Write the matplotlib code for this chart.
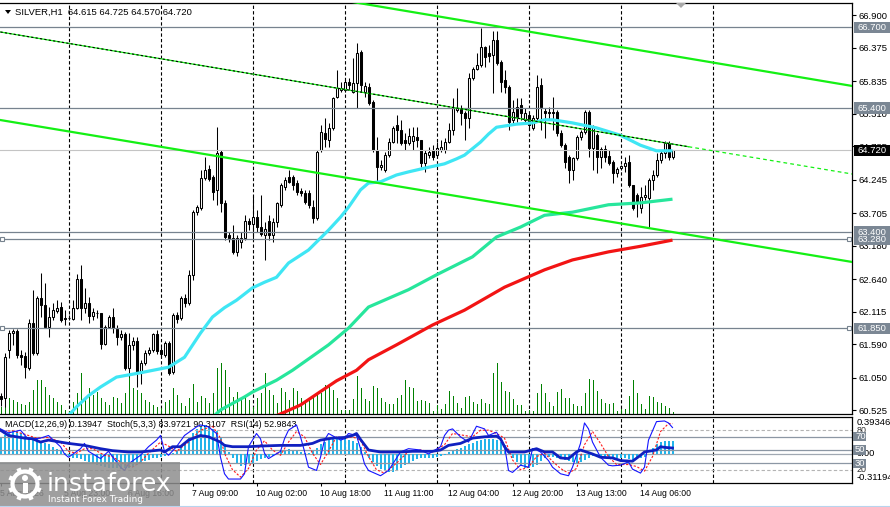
import matplotlib
matplotlib.use("Agg")
import matplotlib.pyplot as plt
import matplotlib.transforms as mtransforms
from matplotlib.patches import Rectangle, Circle, Polygon
import numpy as np

plt.rcParams['font.family'] = ['Liberation Sans', 'DejaVu Sans']

# ---------------- data ----------------
symbol_title = "SILVER,H1  64.615 64.725 64.570 64.720"
indicator_title = "MACD(12,26,9) 0.13947  Stoch(5,3,3) 83.9721 90.3107  RSI(14) 52.9843"

time_labels = ["5 Aug 2026", "5 Aug 23:00", "6 Aug 16:00", "7 Aug 09:00", "10 Aug 02:00",
               "10 Aug 18:00", "11 Aug 11:00", "12 Aug 04:00", "12 Aug 20:00",
               "13 Aug 13:00", "14 Aug 06:00"]
time_label_bars = [0, 16, 32, 48, 64, 80, 96, 112, 128, 144, 160]
day_separator_bars = [17, 40, 63, 86, 109, 132, 155, 178]

price_ticks = [60.525, 61.050, 61.590, 62.115, 62.640, 63.180, 63.705, 64.245,
               64.785, 65.310, 65.835, 66.375, 66.900]

opens = [60.75, 60.72, 61.50, 61.77, 61.80, 61.42, 61.40, 61.21, 61.93, 61.45,
         62.34, 62.22, 61.87, 62.03, 62.13, 62.19, 62.01, 62.01, 62.00, 62.17,
         62.64, 62.17, 62.26, 62.05, 62.09, 62.09, 61.59, 61.87, 62.03, 61.84,
         61.71, 61.76, 61.21, 61.58, 61.64, 61.13, 61.29, 61.45, 61.50, 61.76,
         61.50, 61.42, 61.61, 61.14, 62.06, 62.01, 62.34, 62.26, 62.71, 63.72,
         63.79, 64.27, 64.42, 64.29, 64.08, 64.69, 63.87, 63.35, 63.30, 63.08,
         63.24, 63.30, 63.58, 63.53, 63.64, 63.48, 63.35, 63.58, 63.35, 63.56,
         63.84, 64.13, 64.29, 64.29, 64.19, 64.06, 64.03, 64.03, 63.80, 63.63,
         64.72, 65.00, 64.88, 65.08, 65.58, 65.69, 65.69, 65.82, 65.66, 65.80,
         66.30, 65.66, 65.74, 65.50, 64.72, 64.45, 64.40, 64.64, 64.85, 65.13,
         65.05, 64.88, 64.84, 64.87, 64.93, 64.88, 64.51, 64.64, 64.72, 64.64,
         64.72, 64.72, 64.85, 65.05, 65.37, 65.38, 65.32, 65.24, 65.88, 66.03,
         66.09, 66.38, 66.29, 66.25, 66.50, 66.14, 65.85, 65.74, 65.21, 65.42,
         65.45, 65.21, 65.29, 65.08, 65.24, 65.77, 65.35, 65.34, 65.34, 65.34,
         65.00, 64.80, 64.61, 64.40, 64.59, 64.93, 65.01, 65.34, 64.76, 64.96,
         64.61, 64.74, 64.63, 64.53, 64.35, 64.43, 64.46, 64.53, 64.16, 64.00,
         63.79, 63.97, 63.95, 64.24, 64.32, 64.56, 64.67, 64.84, 64.615]
highs = [60.80, 61.45, 61.82, 61.84, 61.84, 61.50, 61.46, 62.00, 62.47, 62.37,
         62.74, 62.58, 62.19, 62.26, 62.30, 62.27, 62.14, 62.06, 62.30, 62.72,
         62.87, 62.50, 62.35, 62.17, 62.14, 62.10, 61.90, 62.06, 62.17, 61.90,
         61.82, 61.79, 61.77, 61.71, 61.71, 61.34, 61.50, 61.55, 61.77, 61.82,
         61.55, 61.64, 61.64, 62.10, 62.11, 62.37, 62.40, 62.79, 63.76, 63.84,
         64.40, 64.61, 64.48, 64.32, 65.09, 64.72, 63.92, 63.40, 63.51, 63.35,
         63.40, 63.67, 63.63, 63.98, 63.76, 64.00, 63.56, 63.67, 63.63, 63.88,
         64.19, 64.29, 64.40, 64.32, 64.24, 64.11, 64.08, 64.08, 63.92, 64.72,
         65.13, 65.24, 65.16, 65.58, 66.01, 65.82, 65.85, 65.88, 66.21, 66.45,
         66.34, 65.82, 65.80, 65.53, 64.93, 64.56, 64.69, 64.92, 65.11, 65.29,
         65.21, 64.99, 65.08, 65.09, 65.09, 64.88, 64.72, 64.77, 64.80, 64.85,
         64.88, 64.92, 65.16, 65.56, 65.72, 65.45, 65.35, 65.96, 66.06, 66.29,
         66.69, 66.40, 66.42, 66.64, 66.64, 66.17, 66.01, 65.77, 65.53, 65.56,
         65.56, 65.40, 65.32, 65.29, 65.93, 65.88, 65.40, 65.42, 65.58, 65.37,
         65.05, 64.84, 64.64, 64.61, 64.96, 65.05, 65.37, 65.37, 65.13, 65.00,
         64.77, 64.80, 64.72, 64.56, 64.45, 64.48, 64.61, 64.64, 64.16, 64.03,
         64.13, 64.16, 64.27, 64.40, 64.67, 64.72, 64.87, 64.87, 64.725]
lows = [60.59, 60.58, 61.37, 61.58, 61.37, 61.26, 61.05, 61.17, 61.42, 61.42,
        62.03, 61.85, 61.71, 61.98, 62.09, 61.95, 61.90, 61.98, 61.98, 62.16,
        61.98, 62.09, 61.93, 61.98, 62.01, 61.51, 61.58, 61.85, 61.77, 61.58,
        61.66, 61.17, 61.06, 61.50, 60.90, 60.95, 61.26, 61.42, 61.46, 61.43,
        61.38, 61.38, 61.09, 61.11, 61.93, 61.98, 62.19, 62.22, 62.63, 63.67,
        63.76, 64.24, 64.22, 63.92, 63.84, 63.72, 63.27, 63.24, 63.05, 63.01,
        63.14, 63.27, 63.43, 63.27, 63.40, 63.34, 62.95, 63.27, 63.24, 63.48,
        63.80, 64.08, 64.19, 64.08, 63.99, 63.98, 63.85, 63.79, 63.54, 63.59,
        64.69, 64.77, 64.77, 65.05, 65.56, 65.66, 65.66, 65.69, 65.64, 65.40,
        65.66, 65.58, 65.45, 64.69, 64.21, 64.40, 64.37, 64.61, 64.84, 64.84,
        64.80, 64.72, 64.80, 64.72, 64.77, 64.45, 64.37, 64.59, 64.56, 64.61,
        64.69, 64.67, 64.84, 64.96, 65.34, 65.13, 64.88, 65.08, 65.85, 66.01,
        66.06, 66.06, 66.14, 65.64, 66.09, 65.66, 65.64, 65.05, 65.16, 65.17,
        65.21, 65.17, 65.05, 65.05, 65.21, 65.05, 64.92, 65.21, 65.05, 64.95,
        64.77, 64.43, 64.19, 64.24, 64.56, 64.88, 64.98, 64.61, 64.40, 64.35,
        64.43, 64.53, 64.48, 64.19, 64.29, 64.40, 64.37, 64.13, 63.76, 63.64,
        63.71, 63.92, 63.48, 64.08, 64.29, 64.51, 64.59, 64.56, 64.570]
closes = [60.71, 61.38, 61.77, 61.80, 61.42, 61.38, 61.22, 61.93, 61.45, 62.34,
          62.22, 61.87, 62.03, 62.14, 62.17, 61.98, 62.00, 62.01, 62.17, 62.64,
          62.17, 62.26, 62.05, 62.11, 62.10, 61.59, 61.87, 62.03, 61.85, 61.71,
          61.76, 61.21, 61.58, 61.64, 61.13, 61.29, 61.45, 61.50, 61.76, 61.48,
          61.43, 61.61, 61.13, 62.06, 62.00, 62.34, 62.26, 62.71, 63.72, 63.80,
          64.27, 64.40, 64.26, 64.05, 64.67, 63.87, 63.32, 63.30, 63.08, 63.30,
          63.30, 63.58, 63.53, 63.64, 63.48, 63.37, 63.45, 63.35, 63.56, 63.87,
          64.16, 64.24, 64.21, 64.16, 64.05, 64.03, 63.88, 63.84, 63.63, 64.69,
          65.01, 64.90, 65.08, 65.56, 65.72, 65.72, 65.82, 65.77, 65.80, 66.29,
          65.77, 65.76, 65.48, 64.72, 64.45, 64.48, 64.64, 64.85, 65.08, 65.05,
          64.84, 64.84, 64.95, 64.95, 64.88, 64.51, 64.67, 64.69, 64.61, 64.76,
          64.77, 64.85, 65.05, 65.40, 65.40, 65.32, 65.24, 65.88, 66.03, 66.09,
          66.38, 66.22, 66.24, 66.50, 66.13, 65.82, 65.74, 65.17, 65.34, 65.26,
          65.32, 65.32, 65.13, 65.24, 65.74, 65.42, 65.32, 65.32, 65.32, 65.00,
          64.80, 64.53, 64.40, 64.59, 64.93, 65.01, 65.34, 64.76, 65.09, 64.61,
          64.74, 64.61, 64.51, 64.35, 64.42, 64.46, 64.51, 64.16, 63.79, 63.87,
          63.97, 64.00, 64.24, 64.32, 64.56, 64.67, 64.84, 64.61, 64.720]
volumes = [700, 1700, 1600, 1400, 1200, 1000, 900, 1200, 2400, 3400,
           3400, 2700, 1900, 1600, 1200, 900, 400, 300, 1200, 2100,
           4100, 1600, 2600, 1900, 2200, 1600, 1200, 900, 1700, 1600,
           1100, 2100, 3700, 2600, 2400, 2100, 1400, 1200, 900, 700,
           600, 1200, 1400, 2600, 1900, 1100, 800, 1600, 3000, 1200,
           1800, 1600, 1100, 2100, 4600, 5100, 4400, 2700, 1700, 2200,
           1400, 1900, 1400, 700, 1600, 2100, 4100, 2400, 1900, 1100,
           2600, 2200, 1400, 2600, 2300, 1600, 1400, 1600, 1700, 1900,
           2100, 2900, 2900, 2400, 1600, 400, 400, 400, 1500, 3800,
           2600, 1500, 1300, 2800, 2600, 1600, 1200, 1000, 1000, 1600,
           1900, 3400, 2700, 2600, 1300, 1400, 1300, 1100, 300, 900,
           500, 1000, 2300, 1800, 1100, 600, 1700, 1800, 1200, 1000,
           1500, 1100, 1000, 4100, 5100, 3200, 2300, 2200, 1500, 900,
           900, 300, 400, 300, 2100, 3000, 2100, 1200, 800, 2200,
           2500, 1600, 1600, 1000, 800, 800, 2100, 3500, 3400, 2300,
           1500, 1100, 1000, 1100, 300, 500, 500, 1800, 3400, 2100,
           1000, 500, 1800, 1700, 1200, 1100, 800, 600, 200]

# moving averages (bar index, value)
ma_fast_bars = [16, 17, 19, 22, 25, 29, 35, 42, 46, 50, 53, 56, 59, 63, 66, 69, 72, 77, 82, 85,
                87, 90, 92, 95, 99, 102, 106, 111, 114, 116, 120, 122, 124, 129, 133, 136,
                138, 143, 149, 155, 160, 164, 168]
ma_fast_vals = [60.30, 60.44, 60.58, 60.76, 60.90, 61.06, 61.13, 61.22, 61.38, 61.77, 62.03,
                62.18, 62.30, 62.50, 62.59, 62.67, 62.90, 63.11, 63.43, 63.64, 63.80, 64.08,
                64.19, 64.21, 64.32, 64.37, 64.43, 64.50, 64.58, 64.64, 64.85, 64.98, 65.09,
                65.14, 65.16, 65.21, 65.21, 65.16, 65.08, 64.96, 64.80, 64.71, 64.71]
ma_mid_bars = [52, 55, 61, 63, 69, 73, 82, 87, 92, 102, 109, 118, 124, 130, 136, 143, 152, 160, 168]
ma_mid_vals = [60.35, 60.53, 60.74, 60.82, 61.01, 61.17, 61.58, 61.85, 62.19, 62.47, 62.71,
               63.00, 63.32, 63.48, 63.67, 63.72, 63.84, 63.87, 63.93]
ma_slow_bars = [67, 75, 84, 89, 92, 99, 108, 116, 126, 136, 143, 152, 160, 168]
ma_slow_vals = [60.38, 60.61, 61.00, 61.17, 61.34, 61.58, 61.90, 62.14, 62.51, 62.79, 62.95,
                63.08, 63.17, 63.27]

# channel trend lines (bar, price) end points
channel_upper = [(85, 67.143), (213, 65.755)]
channel_mid = [(0, 66.626), (172, 64.776), (213, 64.335)]
channel_lower = [(0, 65.206), (213, 62.916)]

levels = [66.700, 65.400, 63.400, 63.280, 61.850]
anchored_levels = [63.280, 61.850]
bid = 64.720

macd_hist = [0.18, 0.20, 0.22, 0.24, 0.24, 0.22, 0.19, 0.17, 0.17, 0.16,
             0.14, 0.12, 0.10, 0.07, 0.05, 0.03, 0.01, -0.02, -0.04, -0.05,
             -0.06, -0.08, -0.09, -0.11, -0.12, -0.13, -0.14, -0.15, -0.15, -0.15,
             -0.16, -0.15, -0.15, -0.14, -0.12, -0.10, -0.08, -0.07, -0.05, -0.04,
             -0.03, -0.02, -0.01, 0.01, 0.04, 0.08, 0.12, 0.17, 0.22, 0.26,
             0.29, 0.31, 0.30, 0.27, 0.24, 0.18, 0.10, 0.02, -0.05, -0.10,
             -0.13, -0.12, -0.11, -0.10, -0.08, -0.06, -0.05, -0.03, -0.02, 0.01,
             0.03, 0.04, 0.05, 0.04, 0.03, 0.02, 0.01, 0.01, 0.03, 0.06,
             0.10, 0.13, 0.15, 0.16, 0.17, 0.17, 0.16, 0.15, 0.14, 0.12,
             0.07, 0.02, -0.04, -0.09, -0.13, -0.16, -0.18, -0.19, -0.19, -0.17,
             -0.15, -0.12, -0.10, -0.08, -0.06, -0.05, -0.05, -0.04, -0.04, -0.03,
             -0.02, -0.01, 0.02, 0.04, 0.05, 0.06, 0.08, 0.10, 0.12, 0.14,
             0.15, 0.16, 0.16, 0.16, 0.15, 0.13, 0.09, 0.03, -0.04, -0.09,
             -0.13, -0.15, -0.15, -0.14, -0.12, -0.08, -0.05, -0.03, -0.03, -0.04,
             -0.05, -0.07, -0.08, -0.09, -0.10, -0.09, -0.07, -0.04, -0.02, -0.01,
             -0.02, -0.03, -0.04, -0.05, -0.05, -0.05, -0.05, -0.06, -0.07, -0.06,
             -0.05, -0.03, 0.00, 0.06, 0.10, 0.13, 0.14, 0.14, 0.14]

stoch_main_bars = [0, 2, 5, 7, 10, 12, 15, 16, 17, 20, 21, 22, 25, 27, 30, 31, 32, 35, 37, 39,
                   40, 41, 42, 44, 46, 49, 50, 52, 54, 55, 56, 57, 60, 61, 62, 64, 65, 66, 67,
                   70, 71, 72, 74, 75, 76, 77, 79, 80, 81, 82, 85, 86, 87, 89, 90, 91, 92, 95,
                   97, 100, 102, 105, 107, 110, 111, 112, 113, 115, 117, 119, 121, 122, 124,
                   126, 127, 128, 130, 132, 133, 134, 135, 137, 138, 140, 142, 143, 145, 146,
                   147, 148, 150, 152, 153, 155, 157, 158, 160, 161, 162, 164, 166, 167, 168]
stoch_main_vals = [82, 76, 80, 66, 68, 72, 55, 44, 39, 52, 60, 48, 37, 48, 24, 19, 29, 42, 55, 65,
                   72, 48, 42, 55, 72, 85, 88, 85, 75, 39, 14, 6, 6, 14, 55, 75, 67, 45, 37,
                   48, 67, 80, 88, 70, 48, 24, 19, 39, 65, 75, 65, 67, 75, 72, 52, 29, 19, 11,
                   19, 47, 52, 50, 44, 55, 72, 80, 82, 70, 62, 86, 82, 72, 77,
                   57, 19, 16, 27, 24, 52, 50, 47, 34, 24, 14, 11, 24, 60, 91,
                   82, 62, 39, 27, 26, 27, 32, 21, 15, 24, 65, 93, 94, 91, 84]
stoch_sig_bars = [0, 3, 6, 9, 12, 15, 17, 19, 21, 23, 26, 28, 31, 33, 35, 37, 40, 42, 44, 47,
                  50, 53, 55, 56, 58, 60, 62, 64, 66, 68, 70, 72, 74, 76, 78, 80, 82, 84, 86,
                  88, 90, 92, 94, 96, 99, 102, 105, 108, 111, 113, 116, 118, 120, 122, 124,
                  126, 128, 130, 132, 134, 136, 138, 140, 142, 144, 146, 148, 150, 152, 154,
                  157, 159, 161, 163, 165, 167, 168]
stoch_sig_vals = [78, 79, 74, 68, 69, 62, 48, 45, 52, 52, 42, 40, 28, 24, 32, 45, 62, 56, 48, 62,
                  80, 86, 68, 45, 20, 9, 22, 50, 64, 50, 42, 62, 78, 70, 45, 28, 48, 70, 68,
                  70, 65, 40, 20, 15, 30, 48, 50, 47, 58, 75, 72, 70, 80, 80, 75,
                  68, 35, 20, 24, 40, 45, 33, 22, 15, 22, 58, 78, 60, 40, 28,
                  28, 25, 18, 40, 78, 90, 90]
rsi_bars = [0, 2, 6, 8, 10, 12, 15, 17, 21, 25, 28, 32, 35, 40, 41, 43, 45, 47, 50, 52, 55, 56,
            58, 62, 65, 70, 75, 78, 80, 83, 86, 88, 89, 90, 92, 95, 100, 103, 108, 110, 112,
            115, 118, 121, 124, 125, 126, 127, 131, 134, 136, 138, 140, 142, 144, 145, 148,
            150, 153, 155, 158, 160, 161, 164, 165, 166, 168]
rsi_vals = [80, 72, 68, 67, 62, 65, 62, 60, 57, 52, 49, 47, 47, 50, 47, 55, 55, 65, 72, 70, 62, 57,
            55, 55, 56, 57, 57, 60, 65, 68, 69, 72, 75, 66, 50, 47, 47, 48, 48, 50, 57,
            60, 68, 70, 71, 67, 55, 47, 47, 52, 47, 47, 38, 37, 47, 50, 44,
            39, 38, 34, 33, 42, 47, 50, 55, 54, 53]
rsi_levels = [70, 50, 30]
stoch_levels = [80, 20]
macd_top, macd_bottom = 0.39346, -0.31194

# ---------------- figure ----------------
W, H = 890, 507
fig = plt.figure(figsize=(W / 100, H / 100), dpi=100)
fig.patch.set_facecolor('white')


def box(l, t, r, b):
    return [l / W, 1 - b / H, (r - l) / W, (b - t) / H]


XMIN, XMAX = -0.125, 212.875
YMIN, YMAX = 60.465, 67.094

ax = fig.add_axes(box(0, 3, 852, 414))
axm = fig.add_axes(box(0, 417, 852, 483))
axi = fig.add_axes(box(0, 417, 852, 483), facecolor='none')

idx = np.arange(len(opens))
o = np.array(opens); hi = np.array(highs); lo = np.array(lows); c = np.array(closes)

LEVEL_C = '#77838f'
BOX_C = '#7b8794'

# grid separators
for a in (ax, axm):
    for b in day_separator_bars:
        a.axvline(b, color='black', lw=0.8, dashes=(3, 2), zorder=0.5)

# volumes (drawn in price window, bottom-anchored)
VOL_FULL = 41100.0
ax.vlines(idx, 0, np.array(volumes) / VOL_FULL, transform=ax.get_xaxis_transform(),
          colors='#008000', lw=0.6, zorder=1, antialiased=False)

# candles
ax.vlines(idx, lo, hi, colors='black', lw=0.75, zorder=3)
up = c >= o
body_h = np.maximum(np.abs(c - o), 0.006)
ax.bar(idx, body_h, bottom=np.minimum(o, c), width=0.5,
       color=np.where(up, 'white', 'black'), edgecolor='black', linewidth=0.75, zorder=4)

# bid line and levels
ax.axhline(bid, color='#c4c4c4', lw=0.8, zorder=5)
for lv in levels:
    ax.axhline(lv, color=LEVEL_C, lw=0.9, zorder=6)
for lv in anchored_levels:
    ax.plot([0.4, 212.2], [lv, lv], ls='none', marker='s', ms=3.2, mfc='white',
            mec=LEVEL_C, mew=0.8, zorder=7, clip_on=False)

# moving averages
ax.plot(ma_slow_bars, ma_slow_vals, color='#f21414', lw=2.3, zorder=8, solid_capstyle='butt')
ax.plot(ma_mid_bars, ma_mid_vals, color='#27e69c', lw=2.3, zorder=8, solid_capstyle='butt')
ax.plot(ma_fast_bars, ma_fast_vals, color='#3fe6f4', lw=2.3, zorder=8, solid_capstyle='butt')

# channel
GREEN = '#14f014'
ax.plot([p[0] for p in channel_upper], [p[1] for p in channel_upper], color=GREEN, lw=1.6, zorder=9)
ax.plot([p[0] for p in channel_lower], [p[1] for p in channel_lower], color=GREEN, lw=1.6, zorder=9)
mx = [p[0] for p in channel_mid[:2]]; my = [p[1] for p in channel_mid[:2]]
ax.plot(mx, my, color=GREEN, lw=0.9, zorder=9)
ax.plot(mx, my, color='black', lw=0.8, dashes=(2, 2), zorder=9)
ax.plot([p[0] for p in channel_mid[1:]], [p[1] for p in channel_mid[1:]], color=GREEN,
        lw=0.9, dashes=(3, 2.5), zorder=9)

# axes styling: price
ax.set_xlim(XMIN, XMAX)
ax.set_ylim(YMIN, YMAX)
ax.set_xticks([])
ax.yaxis.tick_right()
ax.set_yticks(price_ticks)
ax.set_yticklabels([f"{t:.3f}" for t in price_ticks])
ax.tick_params(axis='y', direction='out', length=3, width=0.8, pad=1.5, labelsize=6.8,
               colors='black')
ax.spines['left'].set_visible(False)
for s in ('top', 'right', 'bottom'):
    ax.spines[s].set_linewidth(0.9)

trp = mtransforms.blended_transform_factory(fig.transFigure, ax.transData)


def price_box(y, text, fc, h=0.18):
    ax.add_patch(Rectangle((854 / W, y - h / 2), 36 / W, h, transform=trp, facecolor=fc,
                           edgecolor='none', clip_on=False, zorder=20))
    ax.text(857 / W, y, text, transform=trp, color='white', fontsize=6.8, va='center',
            ha='left', clip_on=False, zorder=21)


for lv in levels:
    price_box(lv, f"{lv:.3f}", BOX_C)
price_box(bid, f"{bid:.3f}", 'black')

# ---------------- indicator window ----------------
axm.bar(idx, macd_hist, width=0.5, color='#22b4ea', lw=0, zorder=2)
axm.set_ylim(macd_bottom, macd_top)
axm.set_xlim(XMIN, XMAX)
axm.set_xticks([]); axm.set_yticks([])
for s in axm.spines.values():
    s.set_visible(False)

for lv in rsi_levels:
    axi.axhline(lv, color='#8c97a4', lw=0.9, zorder=1)
for lv in stoch_levels:
    axi.axhline(lv, color='#b4b4b4', lw=0.8, dashes=(3, 2), zorder=1)
axm.axhline(0, color='#a0a8b2', lw=0.9, zorder=1)

axi.text(5 / 852, 0.885, indicator_title, transform=axi.transAxes, fontsize=6.4,
         va='center', ha='left', zorder=1)
axi.plot(stoch_sig_bars, stoch_sig_vals, color='#ff1a1a', lw=0.8, dashes=(2, 1.5), zorder=4)
axi.plot(stoch_main_bars, stoch_main_vals, color='#1414ff', lw=0.8, zorder=5)
axi.plot(rsi_bars, rsi_vals, color='#1020c0', lw=2.0, zorder=6)

axi.set_xlim(XMIN, XMAX)
axi.set_ylim(0, 100)
axi.set_yticks([])
axi.set_xticks(time_label_bars)
axi.set_xticklabels(time_labels, ha='left')
axi.tick_params(axis='x', direction='out', length=2, width=0.75, pad=2.5, labelsize=6.2)
axi.spines['left'].set_visible(False)
for s in ('top', 'right', 'bottom'):
    axi.spines[s].set_linewidth(0.9)

tri = mtransforms.blended_transform_factory(fig.transFigure, axi.transData)
trm = mtransforms.blended_transform_factory(fig.transFigure, axm.transData)
axm.text(857 / W, macd_top - 0.06, f"{macd_top:.5f}", transform=trm, fontsize=6.8,
         va='center', ha='left', clip_on=False)
axm.text(857 / W, 0.0, "0.00", transform=trm, fontsize=6.8, va='center', ha='left', clip_on=False)
axm.text(857 / W, macd_bottom + 0.06, f"{macd_bottom:.5f}", transform=trm, fontsize=6.8,
         va='center', ha='left', clip_on=False)
for lv in stoch_levels:
    axi.text(857 / W, lv, f"{lv}", transform=tri, fontsize=6.4, va='center', ha='left',
             clip_on=False, color='#303030')
for lv in rsi_levels:
    axi.add_patch(Rectangle((853 / W, lv - 7), 13 / W, 14, transform=tri, facecolor=BOX_C,
                            edgecolor='none', clip_on=False, zorder=20))
    axi.text(855 / W, lv, f"{lv}", transform=tri, fontsize=6.8, color='white', va='center',
             ha='left', clip_on=False, zorder=21)

# ---------------- overlay: title, markers, watermark ----------------
axo = fig.add_axes([0, 0, 1, 1], facecolor='none')
axo.set_xlim(0, W); axo.set_ylim(H, 0); axo.axis('off')
axo.set_zorder(30)
axo.add_patch(Polygon([(5, 10), (11, 10), (8, 14)], closed=True, facecolor='black'))
axo.text(15, 12, symbol_title, fontsize=6.8, va='center', ha='left')
axo.add_patch(Polygon([(676, 3), (686, 3), (681, 8)], closed=True, facecolor='#a8a8a8'))

axo.add_patch(Rectangle((0, 462), 180, 45, facecolor='#8e8e8e', alpha=0.85, edgecolor='none'))
gx, gy = 25, 484
axo.add_patch(Circle((gx, gy), 12.5, fill=False, edgecolor='white', lw=3.0))
for ang in np.deg2rad(np.arange(0, 360, 45) + 22.5):
    axo.plot([gx + 12.5 * np.cos(ang), gx + 17 * np.cos(ang)],
             [gy + 12.5 * np.sin(ang), gy + 17 * np.sin(ang)],
             color='white', lw=3.2, solid_capstyle='butt')
axo.add_patch(Circle((gx, gy - 6), 3, facecolor='white', edgecolor='none'))
axo.add_patch(Rectangle((gx - 2.5, gy - 1.5), 5, 10, facecolor='white', edgecolor='none'))
axo.text(47, 491, "instaforex", fontsize=18, color='white', va='baseline', ha='left',
         family='DejaVu Sans')
axo.text(48, 499, "Instant Forex Trading", fontsize=6.5, color='white', va='center',
         ha='left', family='DejaVu Sans')
axo.plot([0, W], [505.5, 505.5], color='#b8d4ee', lw=0.8)

fig.savefig("out.png", dpi=100, facecolor='white')
